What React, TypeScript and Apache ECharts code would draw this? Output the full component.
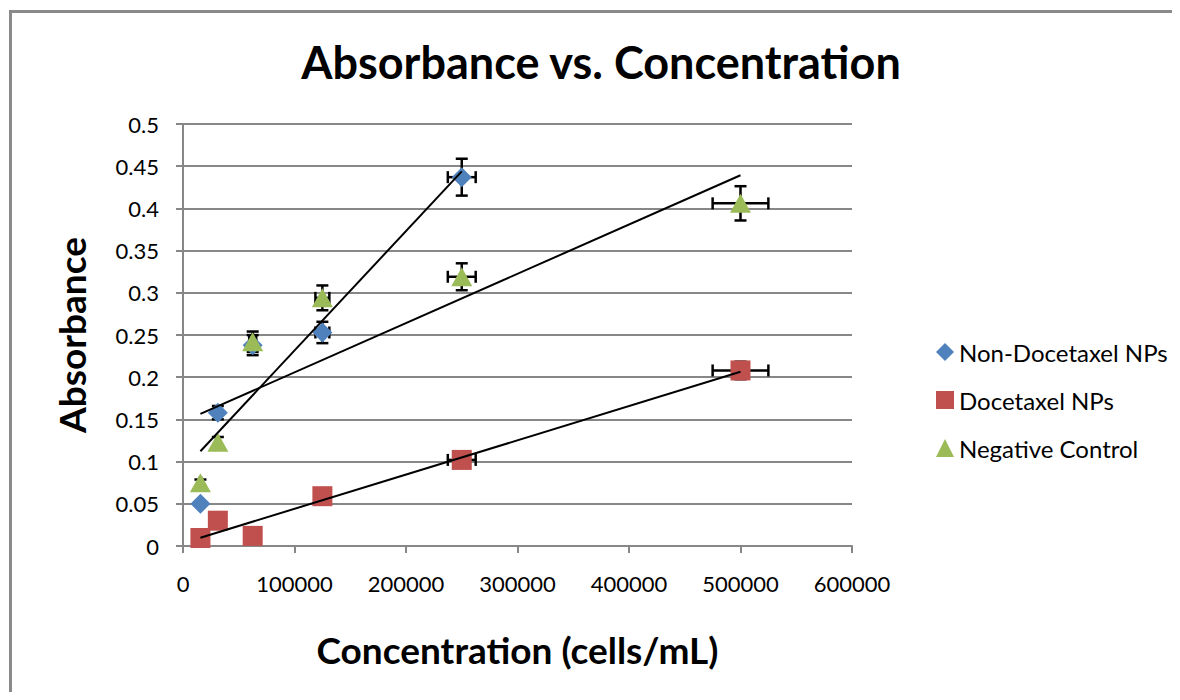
import React, { useEffect, useRef } from "react";
import * as echarts from "echarts";

// ---- data ----
const concentrations = [15625, 31250, 62500, 125000, 250000, 500000];
const nonDocetaxelNPs = [0.05, 0.158, 0.238, 0.253, 0.437]; // no point at 500000
const docetaxelNPs = [0.0095, 0.03, 0.012, 0.059, 0.102, 0.208];
const negativeControl = [0.075, 0.123, 0.242, 0.294, 0.319, 0.406];
const errorPercent = 5; // percentage error bars (x and y)

const seriesNames = ["Non-Docetaxel NPs", "Docetaxel NPs", "Negative Control"];
const seriesColors = ["#4F81BD", "#C0504D", "#9BBB59"];
const seriesSymbols = ["diamond", "rect", "triangle"];
const seriesValues = [nonDocetaxelNPs, docetaxelNPs, negativeControl];

const FONT = "Lato";

function toPoints(values: number[]): number[][] {
  return values.map((v, i) => [concentrations[i], v]);
}

function trendline(points: number[][]): number[][] {
  const n = points.length;
  const mx = points.reduce((s, p) => s + p[0], 0) / n;
  const my = points.reduce((s, p) => s + p[1], 0) / n;
  let sxx = 0;
  let sxy = 0;
  points.forEach((p) => {
    sxx += (p[0] - mx) * (p[0] - mx);
    sxy += (p[0] - mx) * (p[1] - my);
  });
  const slope = sxy / sxx;
  const icpt = my - slope * mx;
  const xs = points.map((p) => p[0]);
  const x0 = Math.min(...xs);
  const x1 = Math.max(...xs);
  return [
    [x0, icpt + slope * x0],
    [x1, icpt + slope * x1],
  ];
}

export default function App() {
  const ref = useRef<HTMLDivElement>(null);

  useEffect(() => {
    if (!ref.current) return;
    const chart = echarts.init(ref.current, undefined, { renderer: "svg" });

    const scatterSeries: any[] = [];
    const errorSeries: any[] = [];
    const lineSeries: any[] = [];

    seriesValues.forEach((vals, si) => {
      const pts = toPoints(vals);
      errorSeries.push({
        type: "custom",
        name: seriesNames[si] + " error",
        z: 2,
        silent: true,
        data: pts.map((p) => [p[0], p[1], (p[0] * errorPercent) / 100, (p[1] * errorPercent) / 100]),
        encode: { x: 0, y: 1 },
        renderItem: (params: any, api: any) => {
          const x = api.value(0);
          const y = api.value(1);
          const ex = api.value(2);
          const ey = api.value(3);
          const l = api.coord([x - ex, y]);
          const r = api.coord([x + ex, y]);
          const t = api.coord([x, y + ey]);
          const b = api.coord([x, y - ey]);
          const cap = 6;
          const style = { stroke: "#000", lineWidth: 2.5 };
          return {
            type: "group",
            children: [
              { type: "line", shape: { x1: l[0], y1: l[1], x2: r[0], y2: r[1] }, style },
              { type: "line", shape: { x1: l[0], y1: l[1] - cap, x2: l[0], y2: l[1] + cap }, style },
              { type: "line", shape: { x1: r[0], y1: r[1] - cap, x2: r[0], y2: r[1] + cap }, style },
              { type: "line", shape: { x1: t[0], y1: t[1], x2: b[0], y2: b[1] }, style },
              { type: "line", shape: { x1: t[0] - cap, y1: t[1], x2: t[0] + cap, y2: t[1] }, style },
              { type: "line", shape: { x1: b[0] - cap, y1: b[1], x2: b[0] + cap, y2: b[1] }, style },
            ],
          };
        },
      });
      scatterSeries.push({
        type: "scatter",
        name: seriesNames[si],
        z: 3,
        symbol: seriesSymbols[si],
        symbolSize: seriesSymbols[si] === "triangle" ? [21, 19] : 20,
        itemStyle: { color: seriesColors[si], opacity: 1 },
        data: pts,
      });
      lineSeries.push({
        type: "line",
        name: seriesNames[si] + " trend",
        z: 4,
        silent: true,
        symbol: "none",
        lineStyle: { color: "#000", width: 2 },
        data: trendline(pts),
      });
    });

    chart.setOption({
      animation: false,
      backgroundColor: "transparent",
      graphic: [
        {
          type: "text",
          x: 593,
          y: 54,
          style: {
            text: "Absorbance vs. Concentration",
            fontFamily: FONT,
            fontWeight: "bold",
            fontSize: 45,
            fill: "#000",
            textAlign: "center",
            textVerticalAlign: "middle",
          },
        },
      ],
      grid: { left: 175, right: 328, top: 116, bottom: 146, containLabel: false },
      legend: {
        orient: "vertical",
        left: 923,
        top: 327,
        itemWidth: 18,
        itemHeight: 18,
        itemGap: 24,
        data: seriesNames.map((n, i) => ({ name: n, icon: seriesSymbols[i] })),
        textStyle: { fontFamily: FONT, fontSize: 24, color: "#000", lineHeight: 24 },
      },
      xAxis: {
        type: "value",
        min: 0,
        max: 600000,
        interval: 100000,
        name: "Concentration (cells/mL)",
        nameLocation: "middle",
        nameGap: 85,
        nameTextStyle: { fontFamily: FONT, fontWeight: "bold", fontSize: 37, color: "#000" },
        axisLine: { show: true, lineStyle: { color: "#878787", width: 2 } },
        axisTick: { show: true, length: 7, lineStyle: { color: "#878787", width: 2 } },
        axisLabel: {
          fontFamily: FONT,
          fontSize: 22,
          color: "#000",
          margin: 26,
          formatter: (v: number) => String(v),
        },
        splitLine: { show: false },
      },
      yAxis: {
        type: "value",
        min: 0,
        max: 0.5,
        interval: 0.05,
        name: "Absorbance",
        nameLocation: "middle",
        nameGap: 93,
        nameTextStyle: { fontFamily: FONT, fontWeight: "bold", fontSize: 37, color: "#000" },
        axisLine: { show: true, lineStyle: { color: "#878787", width: 2 } },
        axisTick: { show: true, length: 7, lineStyle: { color: "#878787", width: 2 } },
        axisLabel: {
          fontFamily: FONT,
          fontSize: 22,
          color: "#000",
          margin: 24,
          formatter: (v: number) => String(Number(v.toFixed(2))),
        },
        splitLine: { show: true, lineStyle: { color: "#878787", width: 2 } },
      },
      series: [...errorSeries, ...scatterSeries, ...lineSeries],
    });

    return () => chart.dispose();
  }, []);

  return (
    <div style={{ position: "relative", width: 1172, height: 684, overflow: "hidden", background: "#fff" }}>
      <div
        style={{
          position: "absolute",
          left: 1,
          top: 2,
          width: 1200,
          height: 700,
          borderLeft: "3px solid #8a8a8a",
          borderTop: "3px solid #8a8a8a",
          pointerEvents: "none",
        }}
      />
      <div ref={ref} style={{ position: "absolute", left: 0, top: 0, width: 1172, height: 684 }} />
    </div>
  );
}
